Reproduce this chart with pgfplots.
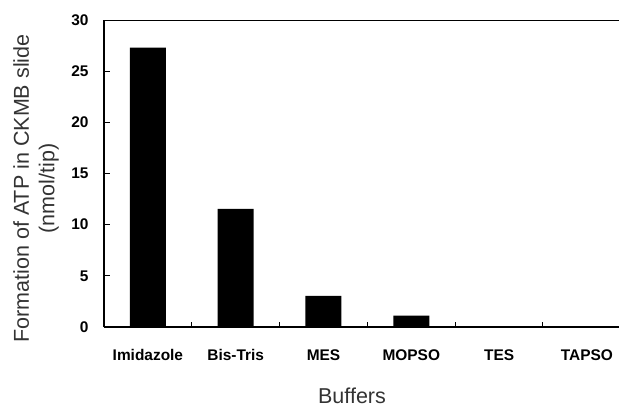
\documentclass[border=0pt]{standalone}
\usepackage{pgfplots}
\pgfplotsset{compat=1.18}
\usepackage{fontspec}
\setmainfont{Liberation Sans}
\begin{document}
\begin{tikzpicture}
\begin{axis}[
  scale only axis, width=515bp, height=307bp,
  xmin=-0.5, xmax=5.366, ymin=0, ymax=30,
  axis lines=left, axis line style={-, line width=1.4bp},
  ytick={0,5,...,30}, tick align=inside, major tick length=6bp,
  xtick={0,...,5}, xticklabels={Imidazole,Bis-Tris,MES,MOPSO,TES,TAPSO},
  major x tick style={draw=none},
  minor xtick={0.5,1.5,2.5,3.5,4.5}, minor tick length=5bp,
  tick style={black, line width=1bp},
  ticklabel style={font=\fontsize{15.5}{18}\selectfont\bfseries},
  yticklabel style={xshift=-12bp},
  xticklabel style={anchor=base, yshift=-33bp},
  /pgf/number format/assume math mode=true,
  xlabel={Buffers},
  ylabel={Formation of ATP in CKMB slide\\(nmol/tip)},
  label style={font=\fontsize{21.6}{25.5}\selectfont, text=black!80},
  ylabel style={align=center, at={(axis description cs:0,0.5)}, anchor=center, yshift=68bp, xshift=-15bp},
  xlabel style={at={(axis description cs:0,0)}, anchor=base, xshift=248bp, yshift=-76bp},
]
\addplot[ybar, bar width=36bp, fill=black, draw=none] coordinates {(0,27.3) (1,11.55) (2,3.05) (3,1.1) (4,0) (5,0)};
\draw[line width=1.4bp] (rel axis cs:0,1) -- (rel axis cs:1,1);
\coordinate (bl) at (rel axis cs:0,0);
\coordinate (tr) at (rel axis cs:1,1);
\end{axis}
\pgfresetboundingbox
\path[use as bounding box] ([xshift=-104bp,yshift=-79bp]bl) rectangle ([yshift=20bp]tr);
\end{tikzpicture}
\end{document}
